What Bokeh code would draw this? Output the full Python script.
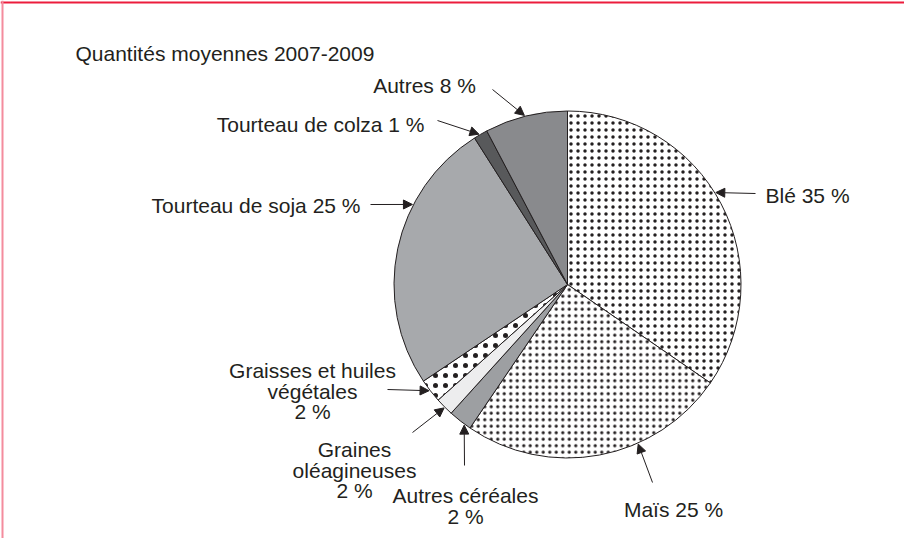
import math
from bokeh.plotting import figure
from bokeh.models import Range1d, Arrow, NormalHead, Span
from bokeh.embed import file_html
from bokeh.resources import INLINE
from bokeh.core.properties import value

# ---------------- data ----------------
categories = ["Blé", "Maïs", "Autres céréales", "Graines oléagineuses",
              "Graisses et huiles végétales", "Tourteau de soja",
              "Tourteau de colza", "Autres"]
shares = [34.6, 24.9, 2.2, 1.7, 2.2, 25.4, 1.3, 7.7]
label_lines = [["Blé 35 %"], ["Maïs 25 %"], ["Autres céréales", "2 %"],
               ["Graines", "oléagineuses", "2 %"],
               ["Graisses et huiles", "végétales", "2 %"],
               ["Tourteau de soja 25 %"], ["Tourteau de colza 1 %"],
               ["Autres 8 %"]]
chart_title = "Quantités moyennes 2007-2009"

# ---------------- layout (page pixel coordinates) ----------------
PAGE_W, PAGE_H, MARGIN = 920, 554, 8
CX, CY, R = 575, 292, 173.5
INK = "#231f20"
FONT = value("Liberation Sans")
FSIZE = "21px"
LINE_STEP = 20.5

styles = [
    dict(fill_color="white", hatch_pattern="dot", hatch_scale=7, hatch_weight=0.7, hatch_color=INK),
    dict(fill_color="white", hatch_pattern="dot", hatch_scale=6.5, hatch_weight=2.1, hatch_color=INK),
    dict(fill_color="#9d9fa2"),
    dict(fill_color="#ededee"),
    dict(fill_color="white", hatch_pattern="dot", hatch_scale=10, hatch_weight=2.4, hatch_color=INK),
    dict(fill_color="#a7a9ac"),
    dict(fill_color="#58595b"),
    dict(fill_color="#898a8d"),
]
# label anchor (x, first baseline y, align), arrow tail, arrow tip angle (deg clockwise from top)
label_pos = [(773, 203, "left"), (681, 517, "center"), (473, 503, "center"),
             (362, 457, "center"), (320, 378, "center"), (368, 213, "right"),
             (432, 132, "right"), (432, 93, "center")]
arrow_tail = [(763, 201), (660, 490), (472, 473), (420, 440), (395, 397),
              (378, 212), (445, 128), (500, 97)]
tip_angle = [58.2, 156.1, 216.3, 225.0, 232.5, 297.3, 329.5, 345.7]


def X(px):
    return px


def Y(py):
    return PAGE_H - py


FIG_W, FIG_H = PAGE_W - 2 * MARGIN, PAGE_H - 2 * MARGIN
p = figure(width=FIG_W, height=FIG_H,
           x_range=Range1d(MARGIN, MARGIN + FIG_W),
           y_range=Range1d(Y(MARGIN + FIG_H), Y(MARGIN)),
           output_backend="svg", toolbar_location=None, min_border=0,
           x_axis_type=None, y_axis_type=None, outline_line_color=None,
           background_fill_color="white", border_fill_color="white")
p.grid.visible = False

# frame lines
p.add_layout(Span(location=Y(10), dimension="width", line_color="#ec1c3c", line_width=2))
p.add_layout(Span(location=10, dimension="height", line_color="#f48c9d", line_width=2))

# pie
total = float(sum(shares))
cum = 0.0
for share, st in zip(shares, styles):
    a0 = math.pi / 2 - 2 * math.pi * cum / total
    a1 = math.pi / 2 - 2 * math.pi * (cum + share) / total
    p.wedge(x=[X(CX)], y=[Y(CY)], radius=R, start_angle=a0, end_angle=a1,
            direction="clock", line_color=INK, line_width=1, **st)
    cum += share

# labels
for lines, (lx, ly, al) in zip(label_lines, label_pos):
    xs = [X(lx)] * len(lines)
    ys = [Y(ly + i * LINE_STEP) for i in range(len(lines))]
    p.text(x=xs, y=ys, text=lines, text_font=FONT, text_font_size=FSIZE,
           text_color=INK, text_align=al, text_baseline="alphabetic")

p.text(x=[X(83)], y=[Y(61)], text=[chart_title], text_font=FONT, text_font_size=FSIZE,
       text_color=INK, text_align="left", text_baseline="alphabetic")

# arrows
for (tx, ty), ang in zip(arrow_tail, tip_angle):
    a = math.radians(ang)
    ex = CX + (R + 1) * math.sin(a)
    ey = CY - (R + 1) * math.cos(a)
    p.add_layout(Arrow(end=NormalHead(size=9, fill_color=INK, line_color=INK, line_width=1),
                       x_start=X(tx), y_start=Y(ty), x_end=X(ex), y_end=Y(ey),
                       line_color=INK, line_width=1))

open("out.html", "w").write(file_html(p, INLINE, title="Quantités moyennes 2007-2009"))
